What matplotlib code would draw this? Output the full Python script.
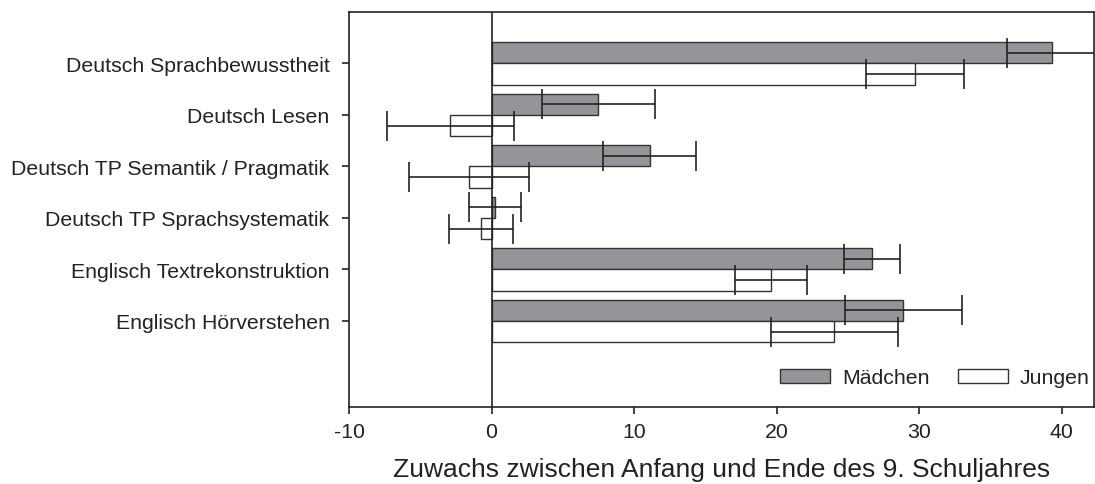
import numpy as np
import matplotlib
matplotlib.use('Agg')
import matplotlib.pyplot as plt

plt.rcParams['font.family'] = ['Liberation Sans', 'DejaVu Sans']

# Daten
kategorien = ['Deutsch Sprachbewusstheit', 'Deutsch Lesen',
              'Deutsch TP Semantik / Pragmatik', 'Deutsch TP Sprachsystematik',
              'Englisch Textrekonstruktion', 'Englisch Hörverstehen']
maedchen = [39.3, 7.5, 11.1, 0.25, 26.7, 28.9]
maedchen_err = [3.1, 3.95, 3.25, 1.85, 1.95, 4.1]
jungen = [29.7, -2.9, -1.6, -0.75, 19.6, 24.05]
jungen_err = [3.45, 4.45, 4.2, 2.25, 2.5, 4.45]
xticks = [-10, 0, 10, 20, 30, 40]

fig = plt.figure(figsize=(10.95, 4.85), dpi=100)
ax = fig.add_axes([349 / 1095, 1 - 408 / 485, (1094 - 349) / 1095, (408 - 13) / 485])

y = np.arange(len(kategorien))
h = 0.41
ax.barh(y - h / 2, maedchen, height=h, color='#939598', edgecolor='#333333',
        linewidth=1.0, label='Mädchen', zorder=2)
ax.barh(y + h / 2, jungen, height=h, color='white', edgecolor='#333333',
        linewidth=1.0, label='Jungen', zorder=2)
ax.errorbar(maedchen, y - h / 2, xerr=maedchen_err, fmt='none', ecolor='#222222',
            elinewidth=1.2, capsize=11, capthick=1.2, zorder=3)
ax.errorbar(jungen, y + h / 2, xerr=jungen_err, fmt='none', ecolor='#222222',
            elinewidth=1.2, capsize=11, capthick=1.2, zorder=3)

ax.axvline(0, color='#222222', linewidth=1.2, zorder=4)

ax.set_xlim(-10, 42.27)
ax.set_ylim(5 + 1.67, -1.0)
ax.set_yticks(y)
ax.set_yticklabels(kategorien, fontsize=15.3, color='#222222')
ax.set_xticks(xticks)
ax.set_xticklabels([str(t) for t in xticks], fontsize=15.3, color='#222222')
ax.tick_params(axis='both', direction='out', length=5, width=1.2, color='#222222')
ax.tick_params(axis='x', pad=6)
ax.tick_params(axis='y', pad=9)
for s in ax.spines.values():
    s.set_linewidth(1.2)
    s.set_color('#222222')

ax.set_xlabel('Zuwachs zwischen Anfang und Ende des 9. Schuljahres', fontsize=19,
              labelpad=11, color='#222222')

ax.legend(loc='center right', bbox_to_anchor=(1 - 4 / 745, 29 / 395), ncol=2,
          frameon=False, fontsize=15.3, handlelength=2.35, handleheight=0.6,
          handletextpad=0.55, columnspacing=1.36, borderpad=0, borderaxespad=0,
          labelcolor='#222222')

plt.savefig('out.png', dpi=100)
